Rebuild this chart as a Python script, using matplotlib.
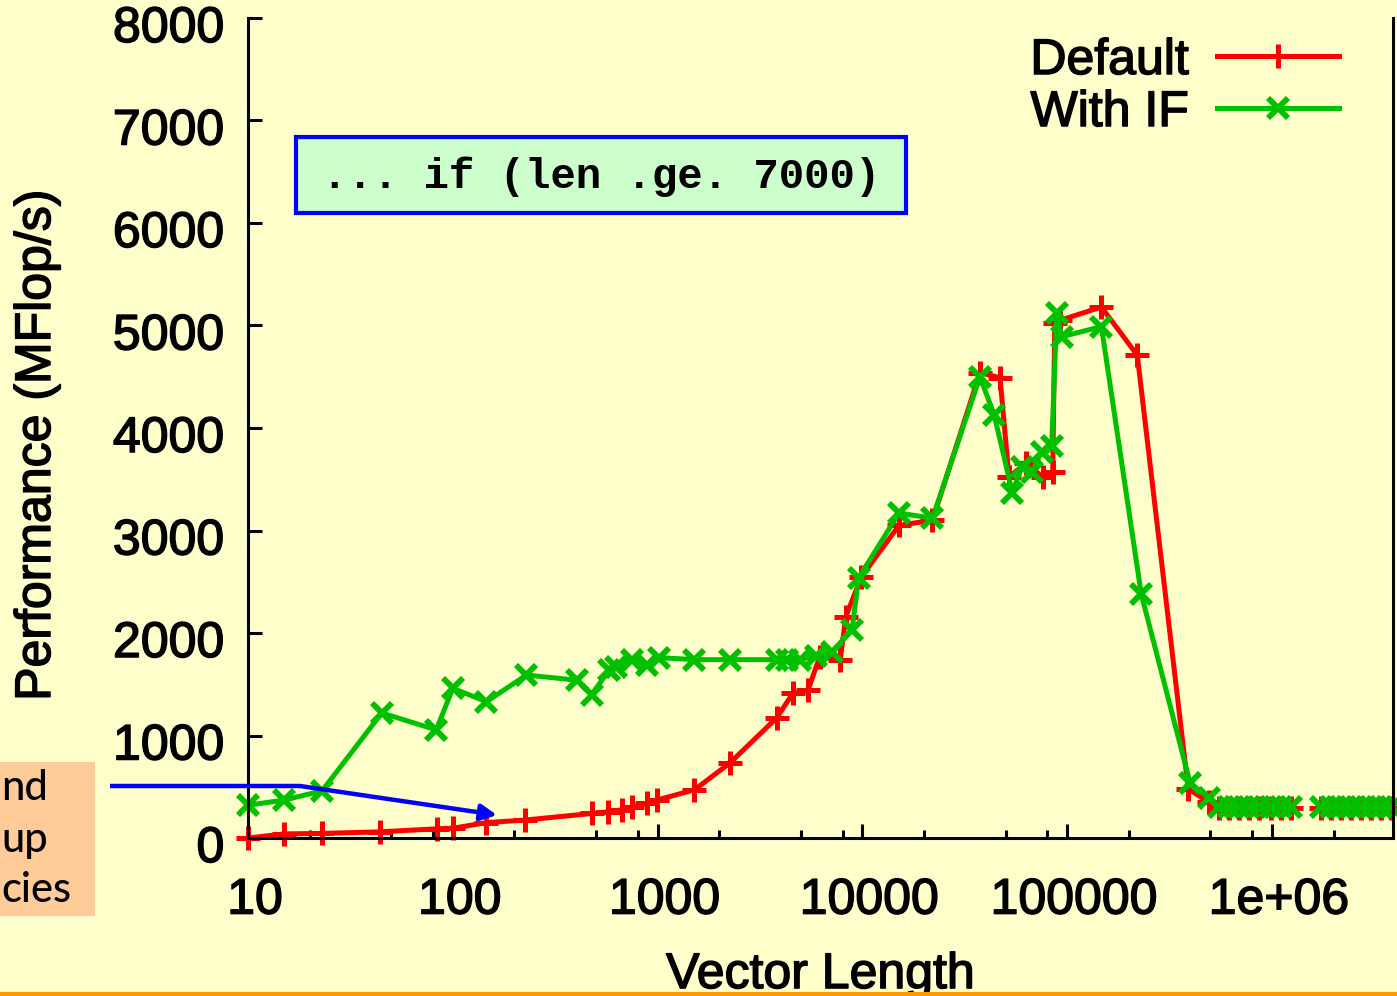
import numpy as np
import matplotlib
matplotlib.use("Agg")
import matplotlib.pyplot as plt
from matplotlib.patches import Rectangle, FancyArrowPatch
from matplotlib.lines import Line2D
from matplotlib.ticker import FixedLocator, NullFormatter
from matplotlib.transforms import ScaledTranslation
import matplotlib.patheffects as pe

plt.rcParams['font.family'] = ['Liberation Sans', 'DejaVu Sans']

# ---------------- data ----------------
default_x = [10, 15, 23, 44, 84, 100, 146, 225, 480, 570, 670, 753, 884, 990,
             1514, 2249, 3808, 4570, 5418, 6200, 7800, 8300, 9900, 15100, 22000,
             37500, 47000, 52000, 63000, 76000, 85000, 87000, 92000, 147000,
             220000, 390000, 490000, 550000, 617000, 690000, 773000, 865000,
             990000, 1107000, 1239000, np.nan, 1735000, 1941000, 2172000,
             2430000, 2720000, 3040000, 3400000, 3800000]
default_y = [0, 40, 45, 60, 90, 95, 150, 175, 240, 255, 275, 300, 340, 370,
             470, 730, 1170, 1410, 1440, 1770, 1740, 2160, 2550, 3050, 3100,
             4540, 4490, 3520, 3660, 3520, 3570, 5020, 5050, 5180,
             4710, 480, 350, 290, 290, 290, 290, 290,
             290, 290, 290, np.nan, 290, 290, 290,
             290, 290, 290, 290, 290]

withif_x = [10, 15, 23, 45, 83, 100, 146, 229, 403, 476, 582, 630, 753, 884,
            1019, 1514, 2249, 3808, 4263, 4937, 5969, 7100, 8900, 9600, 15100,
            22000, 37500, 44000, 54000, 60000, 67500, 75000, 84000, 89000,
            94000, 147000, 230000, 398000, 490000, 550000, 617000, 690000,
            773000, 865000, 990000, 1107000, 1239000, np.nan, 1735000, 1941000,
            2172000, 2430000, 2720000, 3040000, 3400000, 3800000]
withif_y = [320, 370, 460, 1220, 1055, 1460, 1330, 1590, 1540, 1400, 1640, 1670,
            1740, 1690, 1760, 1740, 1740, 1740, 1740, 1740, 1780, 1815, 2030,
            2540, 3170, 3120, 4500, 4130, 3370, 3620, 3570, 3770, 3820, 5120,
            4890, 4990, 2380, 540, 390, 300, 300, 300,
            300, 300, 300, 300, 300, np.nan, 300, 300,
            300, 300, 300, 300, 300, 300]

x_major = [10, 100, 1000, 10000, 100000, 1000000]
x_major_labels = ["10", "100", "1000", "10000", "100000", "1e+06"]
y_ticks = [0, 1000, 2000, 3000, 4000, 5000, 6000, 7000, 8000]
series_labels = ["Default", "With IF"]
note_text = "... if (len .ge. 7000)"
side_text = ["nd", "up", "cies"]

# ---------------- figure ----------------
W, H = 1397, 996
BG = '#FFFFCC'
fig = plt.figure(figsize=(W / 100, H / 100), dpi=100, facecolor=BG)

def fx(px):
    return px / W

def fy(py):
    return 1 - py / H

heavy = [pe.withStroke(linewidth=1.1, foreground='black')]

ax = fig.add_axes([fx(248), fy(838), fx(1393) - fx(248), fy(18) - fy(838)])
ax.set_facecolor(BG)

ax.plot(default_x, default_y, color='#FF0000', lw=3.6, marker='+', ms=17,
        mew=3.6, clip_on=False, label=series_labels[0], zorder=2)
ax.plot(withif_x, withif_y, color='#00C000', lw=3.6, marker='x', ms=14.5,
        mew=4.2, clip_on=False, label=series_labels[1], zorder=2.1)

ax.set_xscale('log')
ax.set_xlim(10, 3.9e6)
ax.set_ylim(0, 8000)
ax.set_xticks(x_major)
ax.set_xticklabels(x_major_labels)
minor = [m * 10 ** d for d in range(1, 7) for m in (2, 5, 8)]
ax.xaxis.set_minor_locator(FixedLocator(minor))
ax.xaxis.set_minor_formatter(NullFormatter())
ax.set_yticks(y_ticks)
ax.set_yticklabels([str(v) for v in y_ticks])

ax.tick_params(axis='both', which='major', direction='in', length=10,
               width=2.2, labelsize=36, color='black')
ax.tick_params(axis='x', which='major', pad=28.5)
ax.tick_params(axis='y', which='major', pad=17)
ax.tick_params(axis='x', which='minor', direction='in', length=6, width=2.2)
ax.tick_params(top=False, right=False, which='both')

xoff = ScaledTranslation(7 / 100, 0, fig.dpi_scale_trans)
yoff = ScaledTranslation(0, -6 / 100, fig.dpi_scale_trans)
for lab in ax.get_xticklabels():
    lab.set_transform(lab.get_transform() + xoff)
    lab.set_path_effects(heavy)
for lab in ax.get_yticklabels():
    lab.set_transform(lab.get_transform() + yoff)
    lab.set_path_effects(heavy)

for s in ['left', 'right', 'bottom']:
    ax.spines[s].set_linewidth(2.2)
    ax.spines[s].set_color('black')
ax.spines['top'].set_visible(False)

xl = ax.set_xlabel("Vector Length", fontsize=36, labelpad=20.5)
yl = ax.set_ylabel("Performance (MFlop/s)", fontsize=36)
xl.set_path_effects(heavy)
yl.set_path_effects(heavy)
ax.yaxis.set_label_coords((60 - 248) / 1145, (838 - 445) / 820)

leg = ax.legend(loc='upper right', bbox_to_anchor=(fx(1339), fy(38)),
                bbox_transform=fig.transFigure, frameon=False, fontsize=36,
                markerfirst=False, handlelength=2.45, handletextpad=0.55,
                labelspacing=0.12, borderpad=0, borderaxespad=0, numpoints=1)
for t in leg.get_texts():
    t.set_path_effects(heavy)

# ---------------- annotations ----------------
fig.add_artist(Rectangle((fx(296), fy(213)), fx(906) - fx(296), fy(137) - fy(213),
                         transform=fig.transFigure, facecolor='#CCFFCC',
                         edgecolor='#0000FF', lw=3, zorder=4))
fig.text(fx(601), fy(177), note_text, family=['Liberation Mono', 'DejaVu Sans Mono'],
         weight='bold', fontsize=30.5, ha='center', va='center', zorder=5)

fig.add_artist(Rectangle((0, fy(916)), fx(95), fy(762) - fy(916),
                         transform=fig.transFigure, facecolor='#FFCC99',
                         edgecolor='none', zorder=4))
for t, yc in zip(side_text, [788, 840, 890]):
    fig.text(fx(1), fy(yc), t, family=['Lato', 'DejaVu Sans'], fontsize=30,
             weight='medium', ha='left', va='center', color='black', zorder=5)

fig.add_artist(Line2D([fx(110), fx(300)], [fy(786), fy(786)],
                      transform=fig.transFigure, color='#0000FF', lw=3.2,
                      solid_capstyle='butt', zorder=6))
fig.add_artist(FancyArrowPatch((fx(300), fy(786)), (fx(497), fy(815)),
                               transform=fig.transFigure, arrowstyle='-|>',
                               mutation_scale=24, color='#0000FF', lw=3.2,
                               shrinkA=0, shrinkB=0, zorder=6))

fig.add_artist(Rectangle((0, 0), 1, fy(992), transform=fig.transFigure,
                         facecolor='#FF9900', edgecolor='none', zorder=10))

fig.savefig("out.png", dpi=100, facecolor=BG)
